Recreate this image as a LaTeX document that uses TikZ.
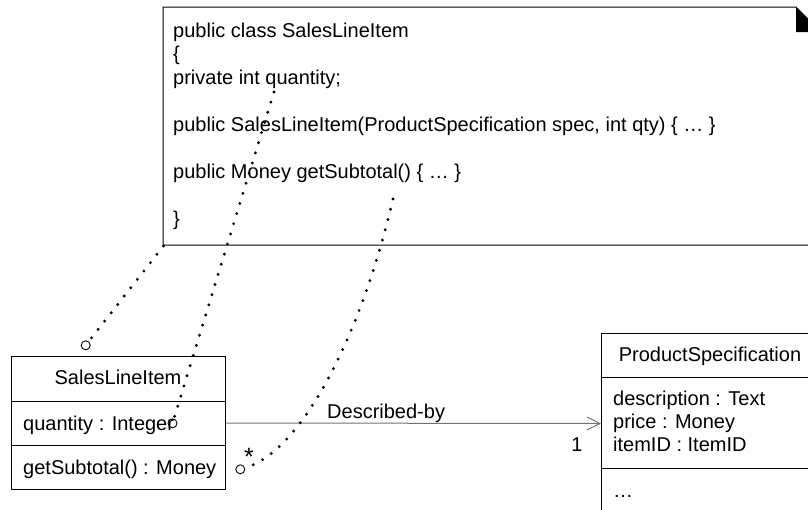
\documentclass[tikz,border=0pt]{standalone}
\usepackage{fontspec}
\setmainfont{Liberation Sans}
\usetikzlibrary{arrows.meta}
\begin{document}
\begin{tikzpicture}[x=1pt,y=-1pt,font=\fontsize{20}{23.5}\selectfont,
  txt/.style={anchor=base west,inner sep=0},
  mid/.style={anchor=base,inner sep=0},
  umlbox/.style={draw,line width=1pt,inner sep=0,anchor=north west},
  endc/.style={circle,draw,line width=.9pt,inner sep=0,minimum size=9pt},
  dotline/.style={line width=3.2pt,line cap=round,dash pattern=on 0pt off 10.6pt}]
\clip (0,0) rectangle (808,509);
% note with code
\draw[line width=1pt] (163,245) -- (163,7) -- (796,7) -- (821,32) -- (821,245) -- cycle;\fill (796,7) -- (821,32) -- (796,32) -- cycle;
\coordinate (nc) at (163.5,246);
\foreach \i/\y/\t in {1/37/{public class SalesLineItem},2/60.5/{\{},3/84/{private int quantity;},4/131/{public SalesLineItem(ProductSpecification spec, int qty) \{ … \}},5/178/{public Money getSubtotal() \{ … \}},6/225/{\}}}{\node[txt] (code\i) at (173,\y){\t};}
\coordinate (qty) at (274,92);\coordinate (sub) at (393,199);
% classes
\node[umlbox,minimum width=214pt,minimum height=133pt] (sli) at (11,356){};
\draw[line width=1pt] (11,401) -- (225,401) (11,445) -- (225,445);
\node[mid] (sliname) at (118,384){SalesLineItem};
\node[txt] (sliattr) at (23,430){quantity : Integer};
\node[txt] (sliop) at (23,474){getSubtotal() : Money};
\node[umlbox,minimum width=219pt,minimum height=180pt] (ps) at (601,333){};
\draw[line width=1pt] (601,377) -- (821,377) (601,468) -- (821,468);
\node[mid] (psname) at (710,361){ProductSpecification};
\foreach \i/\y/\t in {1/405.5/{description : Text},2/428.5/{price : Money},3/451/{itemID : ItemID},4/497/{…}}{\node[txt] (psattr\i) at (613,\y){\t};}
% association
\draw[black!55,line width=1pt,-{Straight Barb[length=13pt,width=13pt]}] (sli.east) -- (ps.west);
\node[txt] (assoc) at (327,418){Described-by};
\node[mid] (mone) at (577,451){1};
\node[mid,font=\fontsize{25}{25}\selectfont] (mmany) at (249,465){*};
% note links
\node[endc] (e1) at (85.7,345.3){};
\node[endc] (e2) at (172.5,423.3){};
\node[endc] (e3) at (240.3,469.3){};
\draw[dotline] (nc) -- (e1);
\draw[dotline] (qty) -- (e2);
\draw[dotline] (sub) .. controls (360,340) and (300,452) .. (e3);
\end{tikzpicture}
\end{document}
